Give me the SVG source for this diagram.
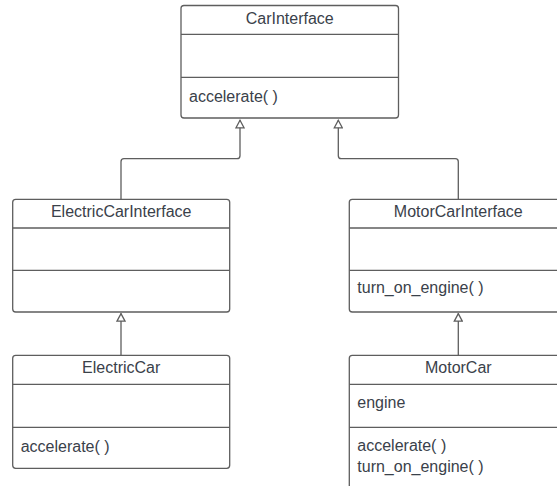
<svg xmlns="http://www.w3.org/2000/svg" width="557" height="486" viewBox="0 0 557 486">
  <style>
    .box { fill: #ffffff; stroke: #5e5e5e; stroke-width: 1.3; }
    .div { stroke: #5e5e5e; stroke-width: 1.3; }
    .txt { font-family: "Liberation Sans", Arial, sans-serif; font-size: 16px; fill: #3a414a; }
    .title { text-anchor: middle; }
    .conn { fill: none; stroke: #5e5e5e; stroke-width: 1.3; }
  </style>
  <defs>
    <!-- hollow generalization head -->
    <marker id="gen" viewBox="0 0 10 10" refX="9" refY="5" markerWidth="10" markerHeight="10" markerUnits="userSpaceOnUse" orient="auto">
      <path d="M1.5,1 L9,5 L1.5,9 Z" fill="#ffffff" stroke="#5e5e5e" stroke-width="1.3"/>
    </marker>
  </defs>
  <rect width="557" height="486" fill="#ffffff"/>

  <g id="connectors">
    <path class="conn" d="M121,199.3 V161.7 Q121,158.7 124,158.7 H237 Q240,158.7 240,155.7 V120.3" marker-end="url(#gen)"/>
    <path class="conn" d="M458.3,199.3 V161.7 Q458.3,158.7 455.3,158.7 H341.3 Q338.3,158.7 338.3,155.7 V120.3" marker-end="url(#gen)"/>
    <path class="conn" d="M121,355.3 V313.6" marker-end="url(#gen)"/>
    <path class="conn" d="M458.3,355.3 V313.6" marker-end="url(#gen)"/>
  </g>

  <g id="CarInterface">
    <rect class="box" x="181" y="5.5" width="217.5" height="112.5" rx="3"/>
    <line class="div" x1="181" y1="34.3" x2="398.5" y2="34.3"/>
    <line class="div" x1="181" y1="77.3" x2="398.5" y2="77.3"/>
    <text class="txt title" x="289.7" y="24">CarInterface</text>
    <text class="txt" x="189" y="102">accelerate( )</text>
  </g>

  <g id="ElectricCarInterface">
    <rect class="box" x="12.7" y="199.3" width="217" height="112.7" rx="3"/>
    <line class="div" x1="12.7" y1="228" x2="229.7" y2="228"/>
    <line class="div" x1="12.7" y1="270.3" x2="229.7" y2="270.3"/>
    <text class="txt title" x="121.2" y="217">ElectricCarInterface</text>
  </g>

  <g id="MotorCarInterface">
    <rect class="box" x="349.3" y="199.3" width="217" height="112.7" rx="3"/>
    <line class="div" x1="349.3" y1="228" x2="566.3" y2="228"/>
    <line class="div" x1="349.3" y1="270.3" x2="566.3" y2="270.3"/>
    <text class="txt title" x="458.3" y="217">MotorCarInterface</text>
    <text class="txt" x="357.3" y="293">turn_on_engine( )</text>
  </g>

  <g id="ElectricCar">
    <rect class="box" x="12.7" y="355.3" width="217" height="113" rx="3"/>
    <line class="div" x1="12.7" y1="384.3" x2="229.7" y2="384.3"/>
    <line class="div" x1="12.7" y1="427.3" x2="229.7" y2="427.3"/>
    <text class="txt title" x="121.2" y="373.3">ElectricCar</text>
    <text class="txt" x="20.7" y="451.7">accelerate( )</text>
  </g>

  <g id="MotorCar">
    <rect class="box" x="349.3" y="355.3" width="217" height="145" rx="3"/>
    <line class="div" x1="349.3" y1="384.3" x2="566.3" y2="384.3"/>
    <line class="div" x1="349.3" y1="427.3" x2="566.3" y2="427.3"/>
    <text class="txt title" x="458.3" y="373.3">MotorCar</text>
    <text class="txt" x="357.3" y="408">engine</text>
    <text class="txt" x="357.3" y="451">accelerate( )</text>
    <text class="txt" x="357.3" y="471.7">turn_on_engine( )</text>
  </g>
</svg>
